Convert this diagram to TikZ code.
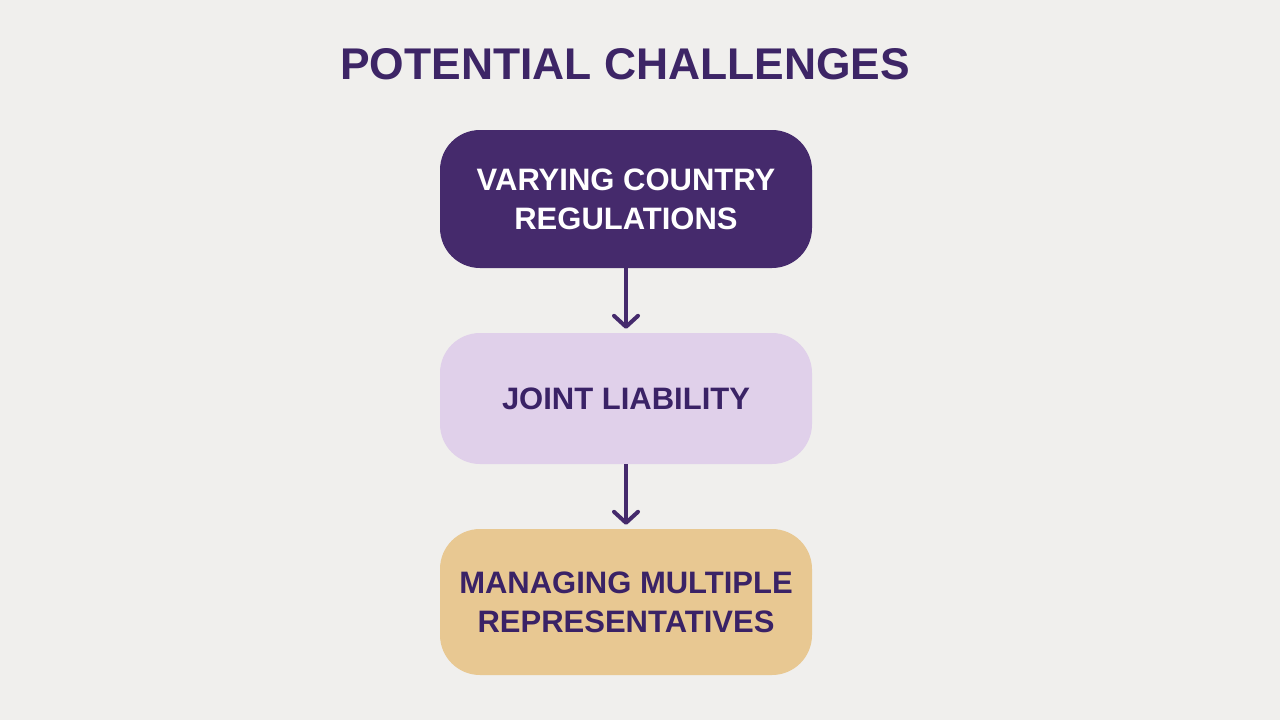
\documentclass[tikz,border=0pt]{standalone}
\usepackage{fontspec}
\setmainfont{Liberation Sans}
\usetikzlibrary{arrows.meta}
\definecolor{bgc}{HTML}{F0EFED}
\definecolor{dpurple}{HTML}{452A6C}
\definecolor{titlec}{HTML}{3D2566}
\definecolor{lav}{HTML}{E0D0EA}
\definecolor{tan}{HTML}{E8C892}
\definecolor{txtd}{HTML}{3A2266}
\tikzset{
  box/.style={rounded corners=40pt, minimum width=372pt, align=center, inner sep=0pt,
    font=\fontsize{31}{39}\selectfont\bfseries},
  conn/.style={line width=4pt, draw=dpurple, -{Straight Barb[length=11pt,width=24pt,line width=4pt,round]}}
}
\begin{document}
\begin{tikzpicture}[x=1pt,y=-1pt]
\fill[bgc] (0,0) rectangle (1280,720);
\useasboundingbox (0,0) rectangle (1280,720);
\node[font=\fontsize{44.4}{52}\selectfont\bfseries, text=titlec] (title) at (625,64) {POTENTIAL CHALLENGES};
\node[box, fill=dpurple, text=white, minimum height=138pt] (b1) at (626,199) {VARYING COUNTRY\\REGULATIONS};
\node[box, fill=lav, text=txtd, minimum height=131pt] (b2) at (626,398.5) {JOINT LIABILITY};
\node[box, fill=tan, text=txtd, minimum height=146pt] (b3) at (626,602) {MANAGING MULTIPLE\\REPRESENTATIVES};
\draw[conn] (b1.south) -- ([yshift=4pt]b2.north);
\draw[conn] (b2.south) -- ([yshift=4pt]b3.north);
\end{tikzpicture}
\end{document}
